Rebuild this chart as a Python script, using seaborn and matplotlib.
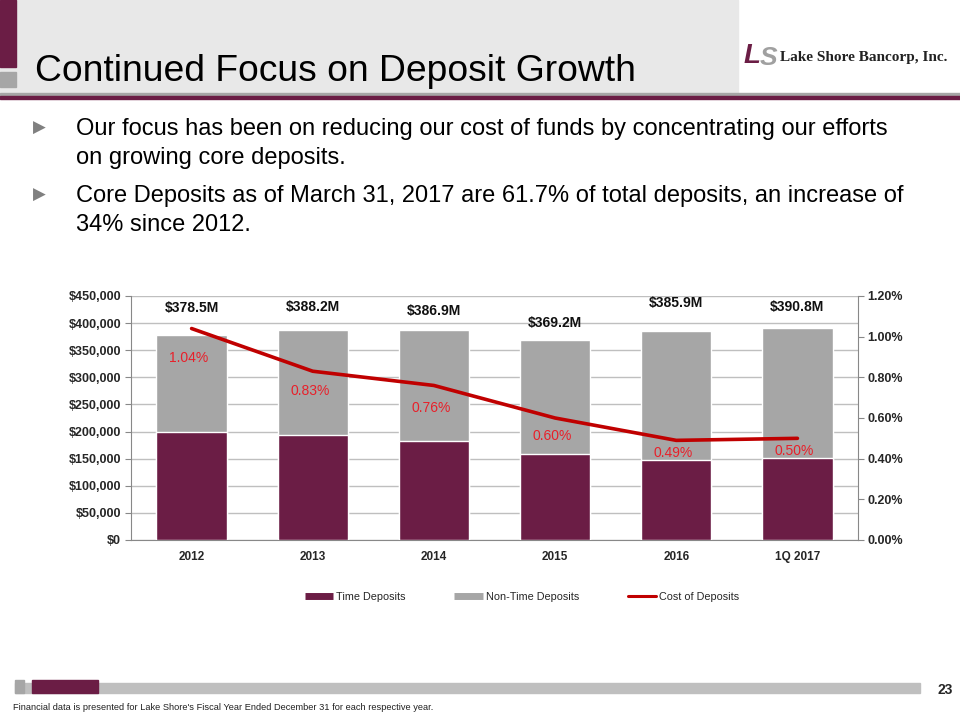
import numpy as np
import pandas as pd
import seaborn as sns
import matplotlib.pyplot as plt
from matplotlib.lines import Line2D
from matplotlib.patches import Rectangle

# chart values (thousands of dollars / percent)
years = ["2012", "2013", "2014", "2015", "2016", "1Q 2017"]
total_deposits = [378500, 388200, 386900, 369200, 385900, 390800]
time_deposits = [199000, 194000, 183000, 159000, 147000, 150500]
cost_of_deposits = [1.04, 0.83, 0.76, 0.60, 0.49, 0.50]
total_labels = ["$378.5M", "$388.2M", "$386.9M", "$369.2M", "$385.9M", "$390.8M"]
cost_labels = ["1.04%", "0.83%", "0.76%", "0.60%", "0.49%", "0.50%"]

# label offsets in points (style only)
total_off = [14, 11, 9, 7, 15, 10]
cost_off = [-21, -14, -16, -13, -9, -9]

maroon = "#6B1D45"
grey = "#A6A6A6"
red_line = "#C00000"
red_text = "#E8202A"

sns.set_style("white")
plt.rcParams["font.family"] = ["Liberation Sans", "DejaVu Sans"]

fig = plt.figure(figsize=(9.6, 7.2), dpi=100)

# slide header
fig.patches.append(Rectangle((0, 1 - 95 / 720), 738 / 960, 95 / 720, transform=fig.transFigure, color="#E8E8E8", zorder=0))
fig.patches.append(Rectangle((0, 1 - 67 / 720), 16 / 960, 67 / 720, transform=fig.transFigure, color=maroon, zorder=1))
fig.patches.append(Rectangle((0, 1 - 87 / 720), 16 / 960, 15 / 720, transform=fig.transFigure, color="#A6A6A6", zorder=1))
fig.patches.append(Rectangle((0, 1 - 96 / 720), 1, 3 / 720, transform=fig.transFigure, color="#A6A6A6", zorder=1))
fig.patches.append(Rectangle((0, 1 - 99 / 720), 1, 3 / 720, transform=fig.transFigure, color=maroon, zorder=1))
fig.text(35 / 960, 1 - 81 / 720, "Continued Focus on Deposit Growth", fontsize=26.8, color="black", va="baseline")

# logo
fig.text(744 / 960, 1 - 63 / 720, "L", fontsize=20, fontweight="bold", style="italic", color=maroon, va="baseline")
fig.text(760 / 960, 1 - 65 / 720, "S", fontsize=19, fontweight="bold", style="italic", color="#A0A0A0", va="baseline")
fig.text(780 / 960, 1 - 61 / 720, "Lake Shore Bancorp, Inc.", family="Liberation Serif", fontsize=11, fontweight="bold", color="#222222", va="baseline")

# bullets
bullets = [
    (128, ["Our focus has been on reducing our cost of funds by concentrating our efforts",
           "on growing core deposits."]),
    (195, ["Core Deposits as of March 31, 2017 are 61.7% of total deposits, an increase of",
           "34% since 2012."]),
]
for y0, lines in bullets:
    fig.text(33 / 960, 1 - y0 / 720, "\u25B6", fontsize=12, color="#808080", va="center", family="DejaVu Sans")
    for i, line in enumerate(lines):
        fig.text(76 / 960, 1 - (y0 + 1 + 29 * i) / 720, line, fontsize=17, color="black", va="center")

# chart
ax = fig.add_axes([131 / 960, 1 - 540 / 720, 727 / 960, 244 / 720])
df = pd.DataFrame({"year": years, "total": total_deposits, "time": time_deposits})
sns.barplot(data=df, x="year", y="total", color=grey, width=0.58, saturation=1, ax=ax, zorder=2)
sns.barplot(data=df, x="year", y="time", color=maroon, width=0.58, saturation=1, ax=ax, zorder=3)
ax.set_ylim(0, 450000)
ax.set_xlim(-0.5, len(years) - 0.5)
ax.set_yticks(np.arange(0, 450001, 50000))
ax.set_yticklabels(["$0"] + ["${:,.0f}".format(v) for v in np.arange(50000, 450001, 50000)])
ax.yaxis.grid(True, color="#BFBFBF", lw=1, zorder=0)
ax.set_axisbelow(True)
ax.set_xlabel("")
ax.set_ylabel("")
ax.tick_params(axis="y", labelsize=9, length=4, color="#888888", pad=3)
ax.tick_params(axis="x", labelsize=8.5, length=0, pad=8)
ax.set_xticks(np.arange(-0.5, len(years) - 0.4, 1), minor=True)
ax.tick_params(axis="x", which="minor", length=4, color="#888888")
for lab in ax.get_xticklabels() + ax.get_yticklabels():
    lab.set_fontweight("bold")
for side in ["left", "bottom"]:
    ax.spines[side].set_color("#888888")
ax.spines["top"].set_visible(False)
ax.spines["right"].set_visible(False)

for i, (v, lab) in enumerate(zip(total_deposits, total_labels)):
    ax.annotate(lab, (i, v), xytext=(0, total_off[i]), textcoords="offset points",
                ha="center", va="bottom", fontsize=10, fontweight="bold", color="#111111")

ax2 = ax.twinx()
sns.lineplot(x=np.arange(len(years)), y=cost_of_deposits, color=red_line, lw=2.6, ax=ax2, zorder=5)
ax2.set_ylim(0, 1.2)
ax2.set_yticks(np.arange(0, 1.21, 0.2))
ax2.set_yticklabels(["{:.2f}%".format(v) for v in np.arange(0, 1.21, 0.2)])
ax2.tick_params(axis="y", labelsize=9, length=4, color="#888888", pad=3)
for lab in ax2.get_yticklabels():
    lab.set_fontweight("bold")
ax2.spines["right"].set_color("#888888")
for side in ["top", "left", "bottom"]:
    ax2.spines[side].set_visible(False)
for i, (v, lab) in enumerate(zip(cost_of_deposits, cost_labels)):
    ax2.annotate(lab, (i, v), xytext=(-2, cost_off[i]), textcoords="offset points",
                 ha="center", va="center", fontsize=10, color=red_text)

handles = [
    Line2D([], [], color=maroon, lw=5, solid_capstyle="butt"),
    Line2D([], [], color=grey, lw=5, solid_capstyle="butt"),
    Line2D([], [], color=red_line, lw=2.2),
]
fig.legend(handles, ["Time Deposits", "Non-Time Deposits", "Cost of Deposits"],
           loc="center", bbox_to_anchor=(522 / 960, 1 - 597 / 720), ncol=3, frameon=False,
           fontsize=7.8, handlelength=2.6, handletextpad=0.3, columnspacing=4.5)

# footer
fig.patches.append(Rectangle((15 / 960, 1 - 693 / 720), 905 / 960, 10 / 720, transform=fig.transFigure, color="#BFBFBF", zorder=0))
fig.patches.append(Rectangle((15 / 960, 1 - 693 / 720), 9 / 960, 13 / 720, transform=fig.transFigure, color="#A6A6A6", zorder=1))
fig.patches.append(Rectangle((32 / 960, 1 - 693 / 720), 66 / 960, 13 / 720, transform=fig.transFigure, color=maroon, zorder=1))
fig.text(938 / 960, 1 - 690 / 720, "23", fontsize=10, fontweight="bold", va="center")
fig.text(13 / 960, 1 - 707 / 720, "Financial data is presented for Lake Shore's Fiscal Year Ended December 31 for each respective year.",
         fontsize=6.7, va="center", color="#222222")

fig.savefig("out.png", dpi=100)
